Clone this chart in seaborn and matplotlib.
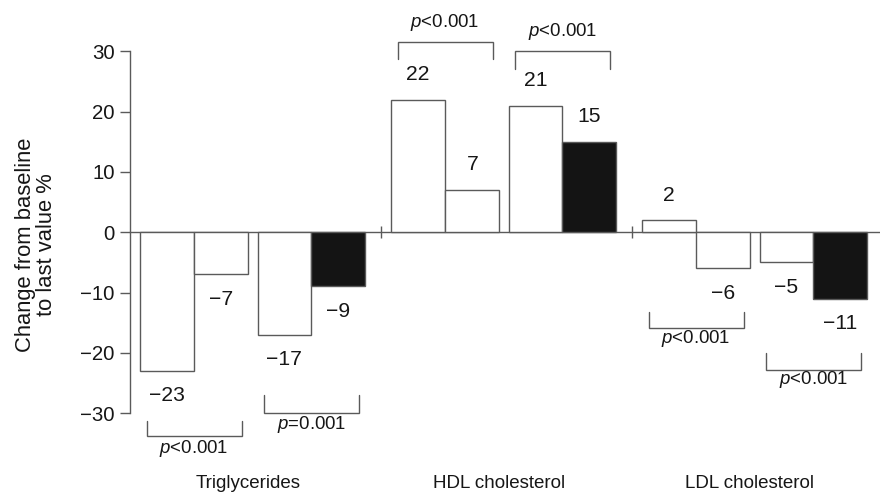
import numpy as np
import pandas as pd
import matplotlib
matplotlib.use("Agg")
import matplotlib.pyplot as plt
import matplotlib.transforms as mtransforms
import seaborn as sns

# ---- data ----
categories = ["Triglycerides", "HDL cholesterol", "LDL cholesterol"]
series = ["A", "B", "C", "D"]
series_fill = ["white", "white", "white", "black"]
values = {
    "Triglycerides":   [-23, -7, -17, -9],
    "HDL cholesterol": [22, 7, 21, 15],
    "LDL cholesterol": [2, -6, -5, -11],
}
value_labels = {
    "Triglycerides":   ["\u221223", "\u22127", "\u221217", "\u22129"],
    "HDL cholesterol": ["22", "7", "21", "15"],
    "LDL cholesterol": ["2", "\u22126", "\u22125", "\u221211"],
}
# p-value brackets: (category, pair index, label)
pvalue_cats = ["Triglycerides", "Triglycerides", "HDL cholesterol", "HDL cholesterol",
               "LDL cholesterol", "LDL cholesterol"]
pvalue_pairs = [0, 1, 0, 1, 0, 1]
pvalue_texts = [r"$\mathit{p}$<0.001", r"$\mathit{p}$=0.001", r"$\mathit{p}$<0.001",
                r"$\mathit{p}$<0.001", r"$\mathit{p}$<0.001", r"$\mathit{p}$<0.001"]
yticks = [-30, -20, -10, 0, 10, 20, 30]

# ---- layout (not data) ----
bar_offsets = [-0.353, -0.136, 0.1155, 0.330]
bracket_level = [-33.8, -30.0, 31.5, 30.0, -15.9, -22.9]
bracket_tip = [-31.3, -27.0, 28.8, 27.0, -13.3, -20.1]
bracket_label_y = [-35.8, -31.8, 34.8, 33.3, -17.7, -24.5]
bracket_halfwidth = 0.189

rows = []
for ci, cat in enumerate(categories):
    for si, s in enumerate(series):
        rows.append({"cat": cat, "series": s, "pos": ci + bar_offsets[si],
                     "value": values[cat][si], "fill": series_fill[si],
                     "label": value_labels[cat][si]})
df = pd.DataFrame(rows)

sns.set_theme(style="white")
plt.rcParams["font.family"] = ["Liberation Sans", "DejaVu Sans"]
plt.rcParams["mathtext.fontset"] = "custom"
plt.rcParams["mathtext.rm"] = "Liberation Sans"
plt.rcParams["mathtext.it"] = "Liberation Sans:italic"

text_c = "#161616"
line_c = "#5a5a5a"

fig = plt.figure(figsize=(8.8, 5.0), dpi=100)
ax = fig.add_axes([130 / 880, 0.0, 1 - 130 / 880, 1.0])

sns.barplot(data=df, x="pos", y="value", hue="fill",
            palette={"white": "white", "black": "#141414"},
            native_scale=True, dodge=False, width=1.0, errorbar=None,
            edgecolor=line_c, linewidth=1.0, legend=False, ax=ax)

ax.set_xlim(-0.5, -0.5 + 750 / 251)
ax.set_ylim(-44.4, 38.5)

# spines
for s in ["top", "right"]:
    ax.spines[s].set_visible(False)
ax.spines["bottom"].set_position(("data", 0))
ax.spines["bottom"].set_color(line_c)
ax.spines["bottom"].set_linewidth(1.0)
ax.spines["bottom"].set_zorder(0.5)
ax.spines["left"].set_color(line_c)
ax.spines["left"].set_linewidth(1.0)
ax.spines["left"].set_bounds(-30, 30)

ax.set_yticks(yticks)
ax.set_yticklabels([("\u2212" + str(-t)) if t < 0 else str(t) for t in yticks])
ax.tick_params(axis="y", left=True, direction="out", length=7, width=1.0,
               color=line_c, labelsize=14.7, labelcolor=text_c, pad=4)
ax.set_xticks([0.5, 1.5])
ax.set_xticklabels([])
ax.tick_params(axis="x", bottom=True, direction="inout", length=9, width=1.0,
               color=line_c)
ax.set_xlabel("")
ax.set_ylabel("")
ax.grid(False)

# value labels
for _, r in df.iterrows():
    sign = 1 if r["value"] >= 0 else -1
    ax.annotate(r["label"], xy=(r["pos"], r["value"]),
                xytext=(0, sign * 18), textcoords="offset points",
                ha="center", va="center", fontsize=15.2, color=text_c)

# p-value brackets
for cat, pair, txt, lvl, tip, ly in zip(pvalue_cats, pvalue_pairs, pvalue_texts,
                                        bracket_level, bracket_tip, bracket_label_y):
    ci = categories.index(cat)
    cx = ci + (bar_offsets[2 * pair] + bar_offsets[2 * pair + 1]) / 2
    x0, x1 = cx - bracket_halfwidth, cx + bracket_halfwidth
    ax.plot([x0, x0, x1, x1], [tip, lvl, lvl, tip], color=line_c, lw=1.0,
            solid_joinstyle="miter", clip_on=False)
    ax.text(cx, ly, txt, ha="center", va="center", fontsize=13.4, color=text_c)

# category labels at bottom
trans = mtransforms.blended_transform_factory(ax.transData, ax.transAxes)
for ci, cat in enumerate(categories):
    ax.text(ci - 0.03, 1 - 483 / 500, cat, transform=trans, ha="center",
            va="center", fontsize=13.5, color=text_c)

fig.text(36 / 880, 1 - 245 / 500, "Change from baseline\nto last value %",
         rotation=90, ha="center", va="center", fontsize=15.8, color=text_c,
         linespacing=1.05, multialignment="center")

fig.savefig("out.png", dpi=100, facecolor="white")
